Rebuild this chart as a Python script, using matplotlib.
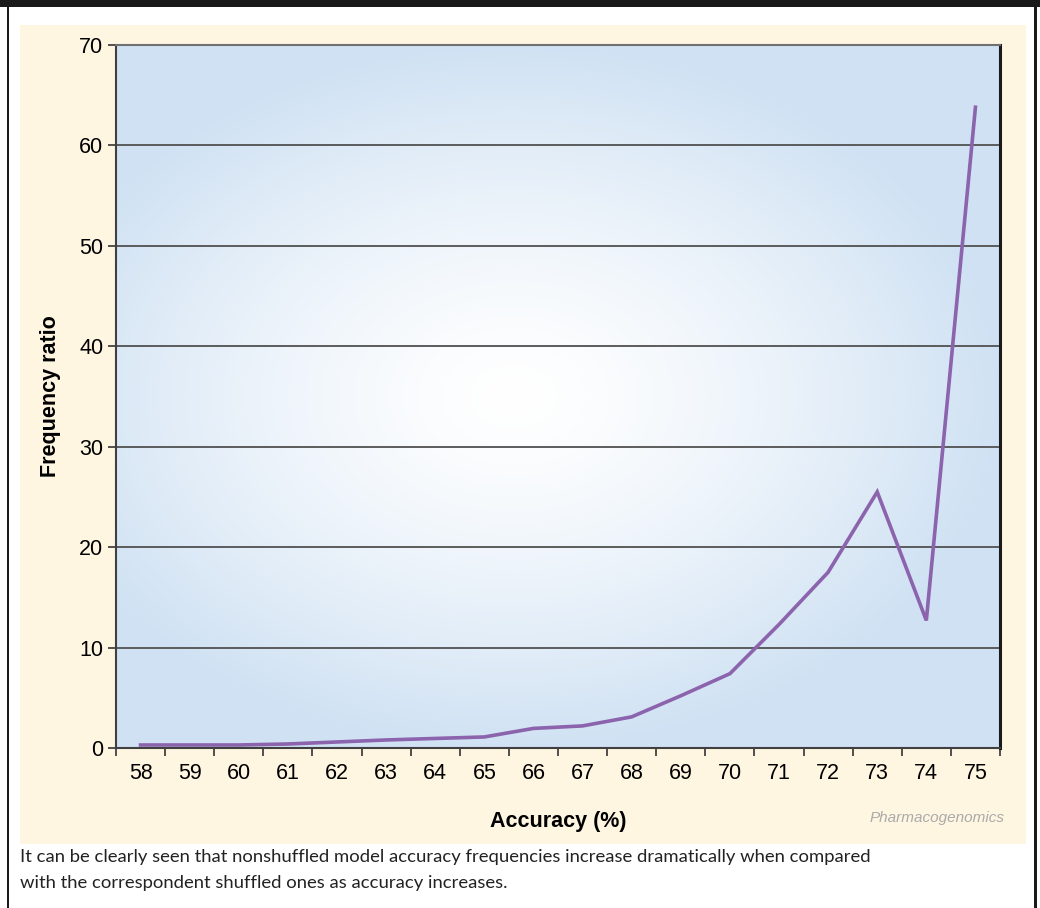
import numpy as np
import matplotlib
matplotlib.use("Agg")
import matplotlib.pyplot as plt
from matplotlib.patches import Rectangle
from matplotlib.ticker import FixedLocator, NullFormatter

# ---- data ----
accuracy = ["58", "59", "60", "61", "62", "63", "64", "65", "66",
            "67", "68", "69", "70", "71", "72", "73", "74", "75"]
frequency_ratio = [0.3, 0.3, 0.3, 0.4, 0.6, 0.8, 0.95, 1.1, 1.95,
                   2.2, 3.1, 5.2, 7.4, 12.3, 17.5, 25.5, 12.7, 63.8]
y_ticks = [0, 10, 20, 30, 40, 50, 60, 70]
caption = ("It can be clearly seen that nonshuffled model accuracy frequencies increase dramatically when compared\n"
           "with the correspondent shuffled ones as accuracy increases.")

W, H = 1040, 908
fig = plt.figure(figsize=(W / 100, H / 100), dpi=100)
fig.patch.set_facecolor("white")

def fx(px):
    return px / W

def fy(py):
    return 1 - py / H

# frame elements
for rect in [
    Rectangle((0, fy(7)), 1, 7 / H),
    Rectangle((fx(7), 0), 2 / W, fy(7)),
    Rectangle((fx(1034), 0), 3 / W, fy(7)),
]:
    rect.set_transform(fig.transFigure)
    rect.set_facecolor("#1a1a1a")
    rect.set_edgecolor("none")
    rect.set_zorder(-10)
    fig.patches.append(rect)
panel = Rectangle((fx(20), fy(844)), (1026 - 20) / W, (844 - 25) / H,
                  transform=fig.transFigure, facecolor="#fef6e1",
                  edgecolor="none", zorder=-10)
fig.patches.append(panel)

# axes
ax_l, ax_r, ax_t, ax_b = 116, 1000, 45, 748
ax = fig.add_axes([fx(ax_l), fy(ax_b), (ax_r - ax_l) / W, (ax_b - ax_t) / H])
ax.set_zorder(1)
ax.set_facecolor("none")

# radial gradient background
nx, ny = 400, 400
gx, gy = np.meshgrid(np.linspace(-1, 1, nx), np.linspace(-1, 1, ny))
cx, cy = -0.1, 0.0
r = np.sqrt(((gx - cx) / 1.1) ** 2 + ((gy - cy) / 1.0) ** 2)
r = np.clip(r, 0, 1)
inner = np.array([1.0, 1.0, 1.0])
outer = np.array([0.815, 0.885, 0.955])
t = r ** 1.4
img = inner[None, None, :] * (1 - t[..., None]) + outer[None, None, :] * t[..., None]
ax.imshow(img, extent=[0, 1, 0, 1], transform=ax.transAxes, aspect="auto",
          zorder=0, interpolation="bilinear")

x = np.arange(len(accuracy))
ax.plot(x, frequency_ratio, color="#8c63ad", lw=2.6, zorder=3, solid_joinstyle="miter")

ax.set_xlim(-0.5, len(accuracy) - 0.5)
ax.set_ylim(0, 70)

# gridlines
for yv in y_ticks[1:-1]:
    ax.axhline(yv, color="#505050", lw=1.3, zorder=1)

ax.set_yticks(y_ticks)
ax.set_yticklabels([str(v) for v in y_ticks])
ax.xaxis.set_major_locator(FixedLocator(np.arange(-0.5, len(accuracy), 1.0)))
ax.xaxis.set_major_formatter(NullFormatter())
ax.xaxis.set_minor_locator(FixedLocator(x))
ax.set_xticklabels(accuracy, minor=True)
ax.tick_params(axis="x", which="minor", length=0, pad=11, labelsize=15.5)
ax.tick_params(axis="x", which="major", length=6, width=1.2, color="#333333", direction="out")
ax.tick_params(axis="y", length=6, width=1.2, color="#333333", direction="out",
               labelsize=15.5, pad=3)

for side in ["top", "left", "bottom", "right"]:
    ax.spines[side].set_zorder(4)
ax.spines["top"].set_color("#707070")
ax.spines["top"].set_linewidth(1.5)
ax.spines["left"].set_color("#404040")
ax.spines["left"].set_linewidth(1.5)
ax.spines["bottom"].set_color("#404040")
ax.spines["bottom"].set_linewidth(1.5)
ax.spines["right"].set_color("#1a1a1a")
ax.spines["right"].set_linewidth(2.2)

ax.set_xlabel("Accuracy (%)", fontsize=15.5, fontweight="bold", labelpad=19,
              family="Liberation Sans")
ax.set_ylabel("Frequency ratio", fontsize=15.5, fontweight="bold", labelpad=13,
              family="Liberation Sans")
for lab in ax.get_xticklabels(minor=True) + ax.get_yticklabels():
    lab.set_family("Liberation Sans")

fig.text(fx(1005), fy(818), "Pharmacogenomics", ha="right", va="center",
         fontsize=11, style="italic", color="#aaaaaa", family="Liberation Sans")
fig.text(fx(20), fy(849), caption, ha="left", va="top", fontsize=13.3,
         color="#222222", family="Lato", linespacing=1.78)

fig.savefig("out.png", dpi=100, facecolor=fig.get_facecolor())
